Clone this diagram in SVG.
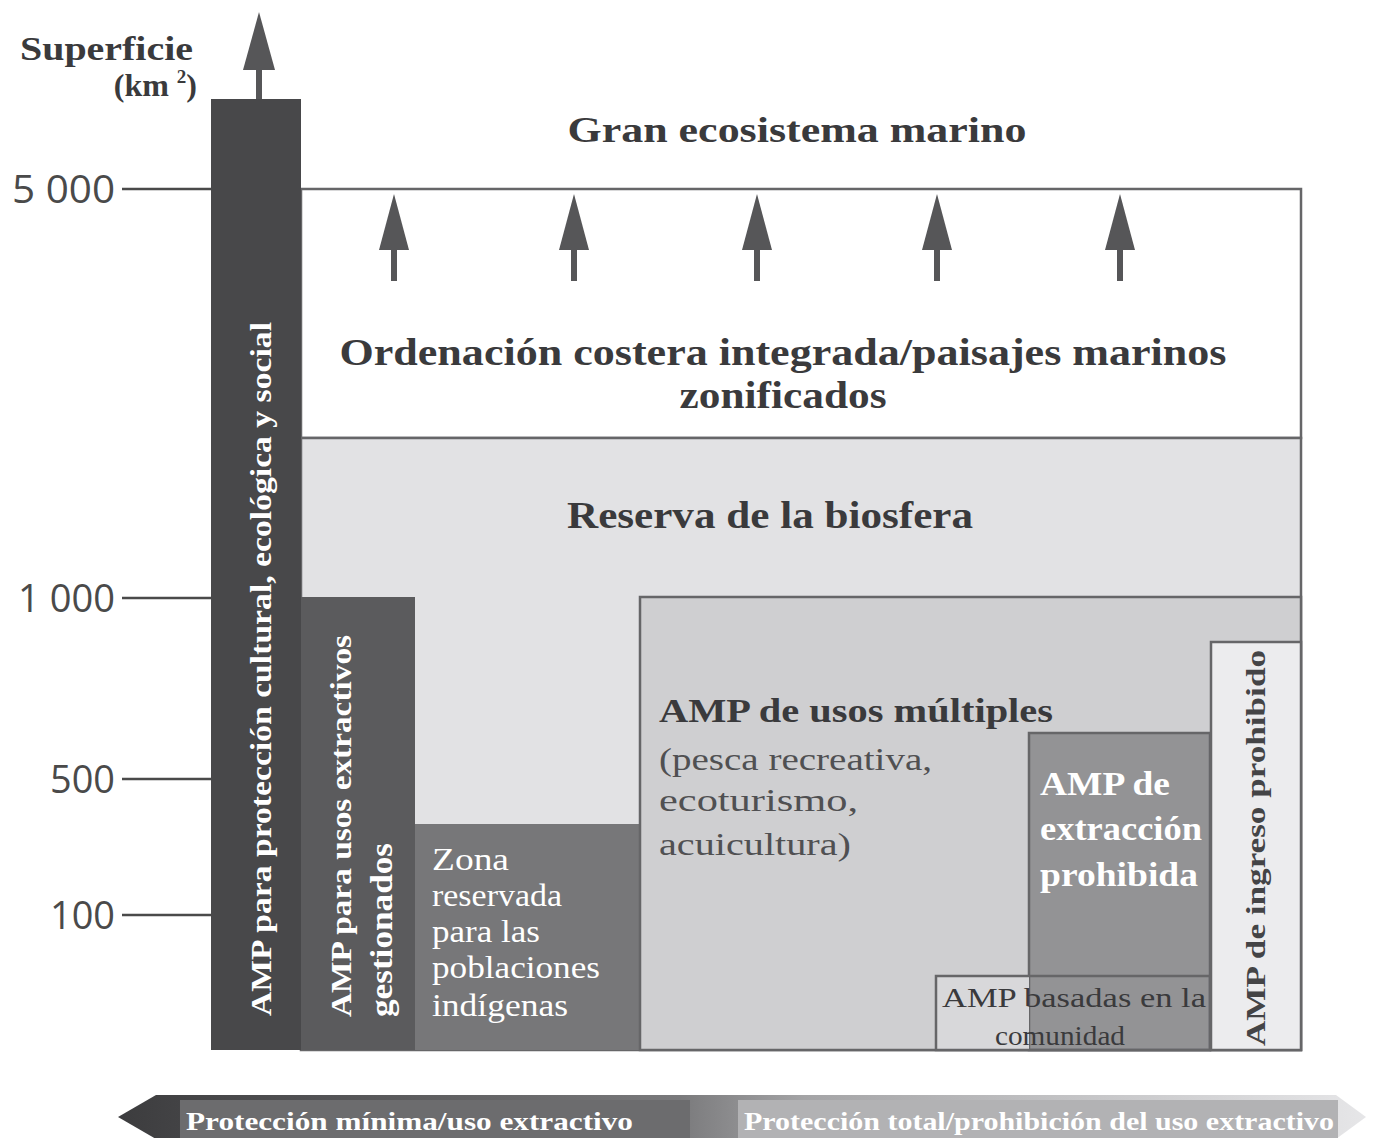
<svg xmlns="http://www.w3.org/2000/svg" width="1376" height="1138" viewBox="0 0 1376 1138">
<defs>
<linearGradient id="bar" x1="0" y1="0" x2="1" y2="0">
<stop offset="0" stop-color="#3c3c3e"/>
<stop offset="0.45" stop-color="#7a7a7c"/>
<stop offset="0.55" stop-color="#a4a4a6"/>
<stop offset="1" stop-color="#e6e6e8"/>
</linearGradient>
<style>
.serif{font-family:"Liberation Serif","DejaVu Serif",serif}
.b{font-weight:bold}
.ax{font-family:"Open Sans","Liberation Sans",sans-serif;font-size:38px;fill:#4a4a4a;text-anchor:end}
.tick{stroke:#4a4a4a;stroke-width:2.5}
.box{stroke:#666668;stroke-width:2.5}
.arr{fill:#565658}
.w{fill:#ffffff}
.dk{fill:#3a3a3c}
</style>
</defs>
<rect width="1376" height="1138" fill="#ffffff"/>

<g id="axis">
<text class="serif b dk" x="20" y="60" font-size="34" textLength="173" lengthAdjust="spacingAndGlyphs">Superficie</text>
<text class="serif b dk" x="197" y="96" font-size="32" text-anchor="end">(km <tspan font-size="19" dy="-13">2</tspan><tspan dy="13">)</tspan></text>
<text class="ax" x="115" y="203" textLength="103" lengthAdjust="spacingAndGlyphs">5 000</text>
<text class="ax" x="115" y="612" textLength="97" lengthAdjust="spacingAndGlyphs">1 000</text>
<text class="ax" x="115" y="793" textLength="65" lengthAdjust="spacingAndGlyphs">500</text>
<text class="ax" x="115" y="929" textLength="65" lengthAdjust="spacingAndGlyphs">100</text>
<line class="tick" x1="122" y1="189" x2="211" y2="189"/>
<line class="tick" x1="122" y1="598" x2="211" y2="598"/>
<line class="tick" x1="122" y1="779" x2="211" y2="779"/>
<line class="tick" x1="122" y1="915" x2="211" y2="915"/>
</g>

<g id="gran-ecosistema">
<text class="serif b dk" x="797" y="142" font-size="36" text-anchor="middle" textLength="459" lengthAdjust="spacingAndGlyphs">Gran ecosistema marino</text>
</g>

<g id="ordenacion">
<rect class="box" x="301" y="189" width="1000" height="249" fill="#ffffff"/>
<text class="serif b dk" x="783" y="365" font-size="38" text-anchor="middle" textLength="887" lengthAdjust="spacingAndGlyphs">Ordenación costera integrada/paisajes marinos</text>
<text class="serif b dk" x="783" y="408" font-size="38" text-anchor="middle" textLength="207" lengthAdjust="spacingAndGlyphs">zonificados</text>
</g>

<g id="reserva">
<rect class="box" x="301" y="438" width="1000" height="612" fill="#e2e2e4"/>
<text class="serif b dk" x="770" y="528" font-size="38" text-anchor="middle" textLength="406" lengthAdjust="spacingAndGlyphs">Reserva de la biosfera</text>
</g>

<g id="connectors">
<rect class="arr" x="256" y="66" width="6" height="34"/>
<polygon class="arr" points="259,12 243,70 275,70"/>
<g>
<rect class="arr" x="391" y="246" width="6" height="35"/>
<polygon class="arr" points="394,194 379,250 409,250"/>
<rect class="arr" x="571" y="246" width="6" height="35"/>
<polygon class="arr" points="574,194 559,250 589,250"/>
<rect class="arr" x="754" y="246" width="6" height="35"/>
<polygon class="arr" points="757,194 742,250 772,250"/>
<rect class="arr" x="934" y="246" width="6" height="35"/>
<polygon class="arr" points="937,194 922,250 952,250"/>
<rect class="arr" x="1117" y="246" width="6" height="35"/>
<polygon class="arr" points="1120,194 1105,250 1135,250"/>
</g>
</g>

<g id="amp-cultural">
<rect x="211" y="99" width="90" height="951" fill="#48484a"/>
<text class="serif b w" font-size="30" transform="translate(271,1016) rotate(-90)" textLength="694" lengthAdjust="spacingAndGlyphs">AMP para protección cultural, ecológica y social</text>
</g>

<g id="amp-extractivos">
<rect x="301" y="597" width="114" height="453" fill="#5b5b5d"/>
<text class="serif b w" font-size="29" transform="translate(351,1017) rotate(-90)" textLength="382" lengthAdjust="spacingAndGlyphs">AMP para usos extractivos</text>
<text class="serif b w" font-size="31" transform="translate(392,1017) rotate(-90)" textLength="174" lengthAdjust="spacingAndGlyphs">gestionados</text>
</g>

<g id="zona-indigenas">
<rect x="415" y="824" width="225" height="226" fill="#777779"/>
<g class="serif w" font-size="32">
<text x="432" y="870" textLength="77" lengthAdjust="spacingAndGlyphs">Zona</text>
<text x="432" y="906" textLength="130" lengthAdjust="spacingAndGlyphs">reservada</text>
<text x="432" y="942" textLength="108" lengthAdjust="spacingAndGlyphs">para las</text>
<text x="432" y="978" textLength="168" lengthAdjust="spacingAndGlyphs">poblaciones</text>
<text x="432" y="1016" textLength="136" lengthAdjust="spacingAndGlyphs">indígenas</text>
</g>
</g>

<g id="amp-usos-multiples">
<rect class="box" x="640" y="597" width="661" height="453" fill="#cfcfd1"/>
<text class="serif b dk" x="659" y="722" font-size="34" textLength="394" lengthAdjust="spacingAndGlyphs">AMP de usos múltiples</text>
<g class="serif" font-size="32" fill="#505052">
<text x="659" y="770" textLength="273" lengthAdjust="spacingAndGlyphs">(pesca recreativa,</text>
<text x="659" y="811" textLength="199" lengthAdjust="spacingAndGlyphs">ecoturismo,</text>
<text x="659" y="855" textLength="192" lengthAdjust="spacingAndGlyphs">acuicultura)</text>
</g>
</g>

<g id="amp-extraccion-prohibida">
<rect class="box" x="1029" y="733" width="181" height="317" fill="#939395"/>
<g class="serif b w" font-size="34">
<text x="1040" y="795" textLength="130" lengthAdjust="spacingAndGlyphs">AMP de</text>
<text x="1040" y="840" textLength="162" lengthAdjust="spacingAndGlyphs">extracción</text>
<text x="1040" y="886" textLength="158" lengthAdjust="spacingAndGlyphs">prohibida</text>
</g>
</g>

<g id="amp-comunidad">
<rect x="936" y="976" width="93" height="74" fill="#d8d8da"/>
<rect class="box" x="936" y="976" width="274" height="74" fill="none"/>
<text class="serif dk" x="942" y="1007" font-size="27" textLength="264" lengthAdjust="spacingAndGlyphs">AMP basadas en la</text>
<text class="serif dk" x="1060" y="1045" font-size="28" text-anchor="middle" textLength="130" lengthAdjust="spacingAndGlyphs">comunidad</text>
</g>

<g id="amp-ingreso-prohibido">
<rect class="box" x="1211" y="642" width="90" height="408" fill="#ececee"/>
<text class="serif b" fill="#444446" font-size="28" transform="translate(1265,1046) rotate(-90)" textLength="396" lengthAdjust="spacingAndGlyphs">AMP de ingreso prohibido</text>
</g>

<g id="gradiente-proteccion">
<polygon points="118,1117 156,1095 1336,1095 1366,1117 1336,1139 156,1139" fill="url(#bar)"/>
<rect x="180" y="1100" width="510" height="40" fill="#6c6c6e"/>
<rect x="738" y="1100" width="600" height="40" fill="#b2b2b4"/>
<text class="serif b w" x="186" y="1130" font-size="26" textLength="447" lengthAdjust="spacingAndGlyphs">Protección mínima/uso extractivo</text>
<text class="serif b w" x="744" y="1130" font-size="26" textLength="590" lengthAdjust="spacingAndGlyphs">Protección total/prohibición del uso extractivo</text>
</g>
</svg>
